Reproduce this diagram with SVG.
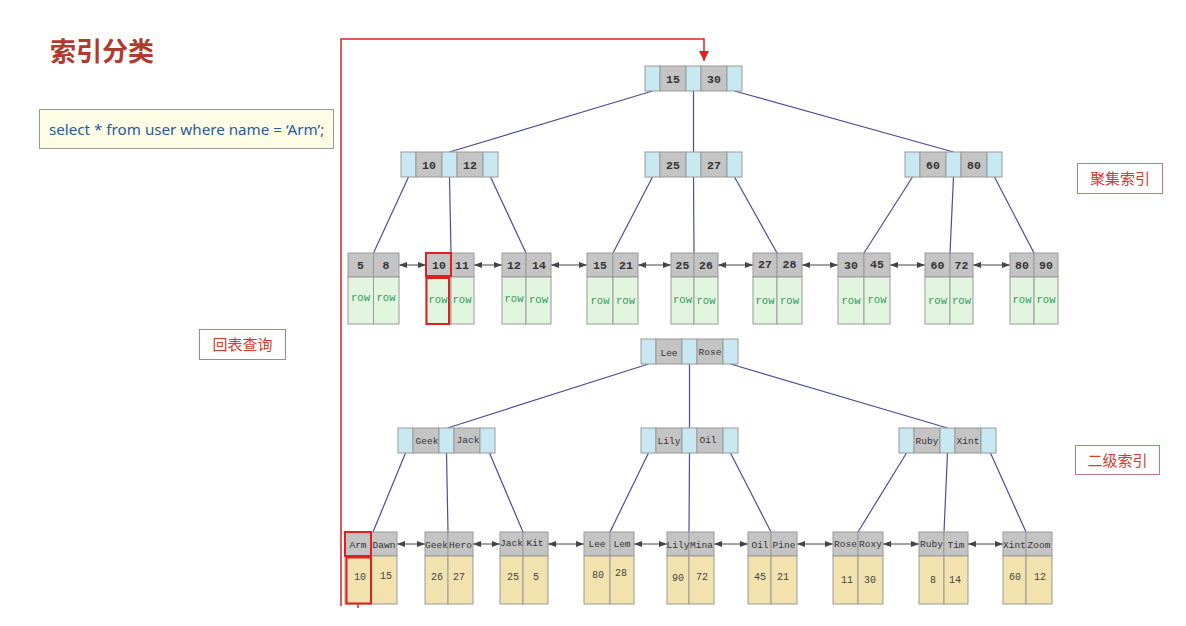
<svg xmlns="http://www.w3.org/2000/svg" width="1186" height="626" viewBox="0 0 1186 626">
<style>
.bl{fill:#c8e8f2;stroke:#9a9a9a;stroke-width:1}
.gr{fill:#c4c4c4;stroke:#9a9a9a;stroke-width:1}
.gn{fill:#e2f6df;stroke:#9a9a9a;stroke-width:1}
.tn{fill:#f2e2ae;stroke:#9a9a9a;stroke-width:1}
.num{font-family:"Liberation Mono","DejaVu Sans Mono",monospace;font-size:11.5px;font-weight:bold;fill:#333;text-anchor:middle}
.nm{font-family:"Liberation Mono","DejaVu Sans Mono",monospace;font-size:9.5px;fill:#333;text-anchor:middle}
.row{font-family:"Liberation Mono","DejaVu Sans Mono",monospace;font-size:10.5px;fill:#2f9a5c;text-anchor:middle}
.val{font-family:"Liberation Mono","DejaVu Sans Mono",monospace;font-size:10px;fill:#444;text-anchor:middle}
.edge{stroke:#4d4d9a;stroke-width:1.2;fill:none}
.link{stroke:#444;stroke-width:1;fill:none;marker-start:url(#ah);marker-end:url(#ah)}
.hl{fill:none;stroke:#e02020;stroke-width:2}
.lab{fill:#fff;stroke:#c07a7a;stroke-width:1}
.labt{font-family:"Noto Sans CJK SC","Noto Sans",sans-serif;font-size:15px;fill:#d33a33;text-anchor:middle}
</style>
<defs>
<marker id="ah" viewBox="0 0 8 8" refX="8" refY="4" markerWidth="8" markerHeight="8" orient="auto-start-reverse" markerUnits="userSpaceOnUse"><path d="M0,1 L8,4 L0,7 Z" fill="#444"/></marker>
<marker id="ra" viewBox="0 0 10 10" refX="10" refY="5" markerWidth="10" markerHeight="10" orient="auto" markerUnits="userSpaceOnUse"><path d="M0,0 L10,5 L0,10 Z" fill="#e02020"/></marker>
</defs>
<rect width="1186" height="626" fill="#fff"/>
<g id="title"><text x="50" y="61" font-family="Noto Sans CJK SC,sans-serif" font-size="26" font-weight="bold" fill="#b03a2e">索引分类</text></g>
<g id="query"><rect x="39.5" y="109.5" width="294" height="39" fill="#fdfde6" stroke="#9a9a9a"/><text x="49" y="135" font-family="Noto Sans,sans-serif" font-size="15.2" fill="#2a5a9a">select * from user where name = ‘Arm’;</text></g>
<g id="redpath"><path d="M341,606 V39 H704 V61" fill="none" stroke="#e02020" stroke-width="1.5" marker-end="url(#ra)"/><path d="M358,604 V608" stroke="#e02020" stroke-width="1.5"/></g>
<g id="lbl-cluster"><rect class="lab" x="1077.5" y="163.5" width="85" height="30"/><text class="labt" x="1120" y="184">聚集索引</text></g>
<g id="lbl-second"><rect class="lab" x="1075.5" y="445.5" width="84" height="29"/><text class="labt" x="1117.5" y="465.5">二级索引</text></g>
<g id="lbl-back"><rect class="lab" x="199.5" y="329.5" width="86" height="30"/><text class="labt" x="242.5" y="350">回表查询</text></g>
<g id="connectors">
<path class="edge" d="M652.5,91 L449.5,152 M693.5,91 V152 M734.5,91 L953.5,152"/>
<path class="edge" d="M408.5,177 L373.5,253 M449.5,177 L451,253 M490.5,177 L526,253"/>
<path class="edge" d="M652.5,177 L613,253 M693.5,177 L694,253 M734.5,177 L777,253"/>
<path class="edge" d="M912.5,177 L864,253 M953.5,177 L950,253 M994.5,177 L1034,253"/>
<path class="edge" d="M648.5,364 L447.5,428 M689.5,364 V428 M730.5,364 L947.5,428"/>
<path class="edge" d="M405.5,453 L373,532 M446.5,453 L448,532 M489.5,453 L523,532"/>
<path class="edge" d="M648.5,453 L610,532 M689.5,453 L689,532 M730.5,453 L771,532"/>
<path class="edge" d="M906.5,453 L858,532 M947.5,453 L944,532 M990.5,453 L1026,532"/>
<path class="link" d="M399,265 H426"/><path class="link" d="M474,265 H502"/><path class="link" d="M551,265 H587"/><path class="link" d="M638,265 H671"/><path class="link" d="M718,265 H753"/><path class="link" d="M802,265 H838"/><path class="link" d="M890,265 H925"/><path class="link" d="M973,265 H1010"/>
<path class="link" d="M397,544 H425"/><path class="link" d="M473,544 H500"/><path class="link" d="M548,544 H584"/><path class="link" d="M634,544 H667"/><path class="link" d="M714,544 H748"/><path class="link" d="M797,544 H833"/><path class="link" d="M883,544 H919"/><path class="link" d="M968,544 H1003"/>
</g>
<g id="n-root"><rect class="bl" x="645" y="66" width="15" height="25"/><rect class="gr" x="660" y="66" width="26" height="25"/><rect class="bl" x="686" y="66" width="15" height="25"/><rect class="gr" x="701" y="66" width="26" height="25"/><rect class="bl" x="727" y="66" width="15" height="25"/><text class="num" x="673" y="82.5">15</text><text class="num" x="714" y="82.5">30</text></g>
<g id="n-10-12"><rect class="bl" x="401" y="152" width="15" height="25"/><rect class="gr" x="416" y="152" width="26" height="25"/><rect class="bl" x="442" y="152" width="15" height="25"/><rect class="gr" x="457" y="152" width="26" height="25"/><rect class="bl" x="483" y="152" width="15" height="25"/><text class="num" x="429" y="168.5">10</text><text class="num" x="470" y="168.5">12</text></g>
<g id="n-25-27"><rect class="bl" x="645" y="152" width="15" height="25"/><rect class="gr" x="660" y="152" width="26" height="25"/><rect class="bl" x="686" y="152" width="15" height="25"/><rect class="gr" x="701" y="152" width="26" height="25"/><rect class="bl" x="727" y="152" width="15" height="25"/><text class="num" x="673" y="168.5">25</text><text class="num" x="714" y="168.5">27</text></g>
<g id="n-60-80"><rect class="bl" x="905" y="152" width="15" height="25"/><rect class="gr" x="920" y="152" width="26" height="25"/><rect class="bl" x="946" y="152" width="15" height="25"/><rect class="gr" x="961" y="152" width="26" height="25"/><rect class="bl" x="987" y="152" width="15" height="25"/><text class="num" x="933" y="168.5">60</text><text class="num" x="974" y="168.5">80</text></g>
<g id="l-5-8"><rect class="gr" x="348" y="253" width="25.5" height="24"/><rect class="gr" x="373.5" y="253" width="25.5" height="24"/><rect class="gn" x="348" y="277" width="25.5" height="47"/><rect class="gn" x="373.5" y="277" width="25.5" height="47"/><text class="num" x="360.5" y="269">5</text><text class="num" x="386" y="269">8</text><text class="row" x="360.5" y="301">row</text><text class="row" x="386" y="301">row</text></g>
<g id="l-10-11"><rect class="gr" x="426" y="253" width="25" height="24"/><rect class="gr" x="451" y="253" width="23" height="24"/><rect class="gn" x="426" y="277" width="25" height="47"/><rect class="gn" x="451" y="277" width="23" height="47"/><text class="num" x="439" y="269">10</text><text class="num" x="462" y="269">11</text><text class="row" x="438" y="303">row</text><text class="row" x="462" y="303">row</text><rect class="hl" x="426" y="253" width="25" height="23"/><rect class="hl" x="426.5" y="278" width="22.5" height="46"/></g>
<g id="l-12-14"><rect class="gr" x="502" y="253" width="24" height="24"/><rect class="gr" x="526" y="253" width="25" height="24"/><rect class="gn" x="502" y="277" width="24" height="47"/><rect class="gn" x="526" y="277" width="25" height="47"/><text class="num" x="514" y="269">12</text><text class="num" x="539" y="269">14</text><text class="row" x="514" y="302">row</text><text class="row" x="538.5" y="303">row</text></g>
<g id="l-15-21"><rect class="gr" x="587" y="253" width="26" height="24"/><rect class="gr" x="613" y="253" width="25" height="24"/><rect class="gn" x="587" y="277" width="26" height="47"/><rect class="gn" x="613" y="277" width="25" height="47"/><text class="num" x="600" y="269">15</text><text class="num" x="626" y="269">21</text><text class="row" x="600" y="304">row</text><text class="row" x="625.5" y="304">row</text></g>
<g id="l-25-26"><rect class="gr" x="671" y="253" width="23" height="24"/><rect class="gr" x="694" y="253" width="24" height="24"/><rect class="gn" x="671" y="277" width="23" height="47"/><rect class="gn" x="694" y="277" width="24" height="47"/><text class="num" x="682.5" y="269">25</text><text class="num" x="706" y="269">26</text><text class="row" x="682.5" y="303">row</text><text class="row" x="706" y="304">row</text></g>
<g id="l-27-28"><rect class="gr" x="753" y="253" width="24" height="24"/><rect class="gr" x="777" y="253" width="25" height="24"/><rect class="gn" x="753" y="277" width="24" height="47"/><rect class="gn" x="777" y="277" width="25" height="47"/><text class="num" x="765" y="268">27</text><text class="num" x="789.5" y="268">28</text><text class="row" x="765" y="304">row</text><text class="row" x="789.5" y="304">row</text></g>
<g id="l-30-45"><rect class="gr" x="838" y="253" width="26" height="24"/><rect class="gr" x="864" y="253" width="26" height="24"/><rect class="gn" x="838" y="277" width="26" height="47"/><rect class="gn" x="864" y="277" width="26" height="47"/><text class="num" x="851" y="269">30</text><text class="num" x="877" y="268">45</text><text class="row" x="851" y="304">row</text><text class="row" x="877" y="303">row</text></g>
<g id="l-60-72"><rect class="gr" x="925" y="253" width="25" height="24"/><rect class="gr" x="950" y="253" width="23" height="24"/><rect class="gn" x="925" y="277" width="25" height="47"/><rect class="gn" x="950" y="277" width="23" height="47"/><text class="num" x="937.5" y="269">60</text><text class="num" x="961.5" y="269">72</text><text class="row" x="937.5" y="304">row</text><text class="row" x="961.5" y="304">row</text></g>
<g id="l-80-90"><rect class="gr" x="1010" y="253" width="24" height="24"/><rect class="gr" x="1034" y="253" width="24" height="24"/><rect class="gn" x="1010" y="277" width="24" height="47"/><rect class="gn" x="1034" y="277" width="24" height="47"/><text class="num" x="1022" y="269">80</text><text class="num" x="1046" y="269">90</text><text class="row" x="1022" y="303">row</text><text class="row" x="1046" y="303">row</text></g>
<g id="n-lee-rose"><rect class="bl" x="641" y="339" width="15" height="25"/><rect class="gr" x="656" y="339" width="26" height="25"/><rect class="bl" x="682" y="339" width="15" height="25"/><rect class="gr" x="697" y="339" width="26" height="25"/><rect class="bl" x="723" y="339" width="15" height="25"/><text class="nm" x="669" y="356">Lee</text><text class="nm" x="710" y="355">Rose</text></g>
<g id="n-geek-jack"><rect class="bl" x="398" y="428" width="15" height="25"/><rect class="gr" x="413" y="428" width="26" height="25"/><rect class="bl" x="439" y="428" width="15" height="25"/><rect class="gr" x="454" y="428" width="26" height="25"/><rect class="bl" x="480" y="428" width="15" height="25"/><text class="nm" x="427" y="444">Geek</text><text class="nm" x="468" y="443">Jack</text></g>
<g id="n-lily-oil"><rect class="bl" x="641" y="428" width="15" height="25"/><rect class="gr" x="656" y="428" width="26" height="25"/><rect class="bl" x="682" y="428" width="15" height="25"/><rect class="gr" x="697" y="428" width="26" height="25"/><rect class="bl" x="723" y="428" width="15" height="25"/><text class="nm" x="669" y="444">Lily</text><text class="nm" x="708" y="443">Oil</text></g>
<g id="n-ruby-xint"><rect class="bl" x="899" y="428" width="15" height="25"/><rect class="gr" x="914" y="428" width="26" height="25"/><rect class="bl" x="940" y="428" width="15" height="25"/><rect class="gr" x="955" y="428" width="26" height="25"/><rect class="bl" x="981" y="428" width="15" height="25"/><text class="nm" x="927" y="444">Ruby</text><text class="nm" x="968" y="444">Xint</text></g>
<g id="b-arm-dawn"><rect class="gr" x="345" y="532" width="26" height="24"/><rect class="gr" x="371" y="532" width="26" height="24"/><rect class="tn" x="345" y="556" width="26" height="48"/><rect class="tn" x="371" y="556" width="26" height="48"/><text class="nm" x="358" y="548">Arm</text><text class="nm" x="384" y="548">Dawn</text><text class="val" x="360" y="580">10</text><text class="val" x="386" y="579">15</text><rect class="hl" x="345" y="532" width="26" height="24"/><rect class="hl" x="346.5" y="557.5" width="24.5" height="46"/></g>
<g id="b-geek-hero"><rect class="gr" x="425" y="532" width="23" height="24"/><rect class="gr" x="448" y="532" width="25" height="24"/><rect class="tn" x="425" y="556" width="23" height="48"/><rect class="tn" x="448" y="556" width="25" height="48"/><text class="nm" x="436.5" y="548">Geek</text><text class="nm" x="460.5" y="548">Hero</text><text class="val" x="437" y="580">26</text><text class="val" x="459" y="580">27</text></g>
<g id="b-jack-kit"><rect class="gr" x="500" y="532" width="23" height="24"/><rect class="gr" x="523" y="532" width="25" height="24"/><rect class="tn" x="500" y="556" width="23" height="48"/><rect class="tn" x="523" y="556" width="25" height="48"/><text class="nm" x="511.5" y="546">Jack</text><text class="nm" x="535" y="546">Kit</text><text class="val" x="513" y="580">25</text><text class="val" x="536" y="580">5</text></g>
<g id="b-lee-lem"><rect class="gr" x="584" y="532" width="26" height="24"/><rect class="gr" x="610" y="532" width="24" height="24"/><rect class="tn" x="584" y="556" width="26" height="48"/><rect class="tn" x="610" y="556" width="24" height="48"/><text class="nm" x="597" y="547">Lee</text><text class="nm" x="622" y="547">Lem</text><text class="val" x="598" y="578">80</text><text class="val" x="621" y="576">28</text></g>
<g id="b-lily-mina"><rect class="gr" x="667" y="532" width="22" height="24"/><rect class="gr" x="689" y="532" width="25" height="24"/><rect class="tn" x="667" y="556" width="22" height="48"/><rect class="tn" x="689" y="556" width="25" height="48"/><text class="nm" x="678" y="548">Lily</text><text class="nm" x="701.5" y="548">Mina</text><text class="val" x="678" y="581">90</text><text class="val" x="702" y="580">72</text></g>
<g id="b-oil-pine"><rect class="gr" x="748" y="532" width="23" height="24"/><rect class="gr" x="771" y="532" width="26" height="24"/><rect class="tn" x="748" y="556" width="23" height="48"/><rect class="tn" x="771" y="556" width="26" height="48"/><text class="nm" x="760" y="548">Oil</text><text class="nm" x="784" y="548">Pine</text><text class="val" x="760" y="580">45</text><text class="val" x="783" y="580">21</text></g>
<g id="b-rose-roxy"><rect class="gr" x="833" y="532" width="25" height="24"/><rect class="gr" x="858" y="532" width="25" height="24"/><rect class="tn" x="833" y="556" width="25" height="48"/><rect class="tn" x="858" y="556" width="25" height="48"/><text class="nm" x="845.5" y="547">Rose</text><text class="nm" x="870.5" y="547">Roxy</text><text class="val" x="847" y="583">11</text><text class="val" x="870" y="583">30</text></g>
<g id="b-ruby-tim"><rect class="gr" x="919" y="532" width="25" height="24"/><rect class="gr" x="944" y="532" width="24" height="24"/><rect class="tn" x="919" y="556" width="25" height="48"/><rect class="tn" x="944" y="556" width="24" height="48"/><text class="nm" x="931.5" y="547">Ruby</text><text class="nm" x="956" y="548">Tim</text><text class="val" x="933" y="583">8</text><text class="val" x="955" y="583">14</text></g>
<g id="b-xint-zoom"><rect class="gr" x="1003" y="532" width="23" height="24"/><rect class="gr" x="1026" y="532" width="26" height="24"/><rect class="tn" x="1003" y="556" width="23" height="48"/><rect class="tn" x="1026" y="556" width="26" height="48"/><text class="nm" x="1014.5" y="548">Xint</text><text class="nm" x="1039" y="548">Zoom</text><text class="val" x="1015" y="580">60</text><text class="val" x="1040" y="580">12</text></g>
</svg>
